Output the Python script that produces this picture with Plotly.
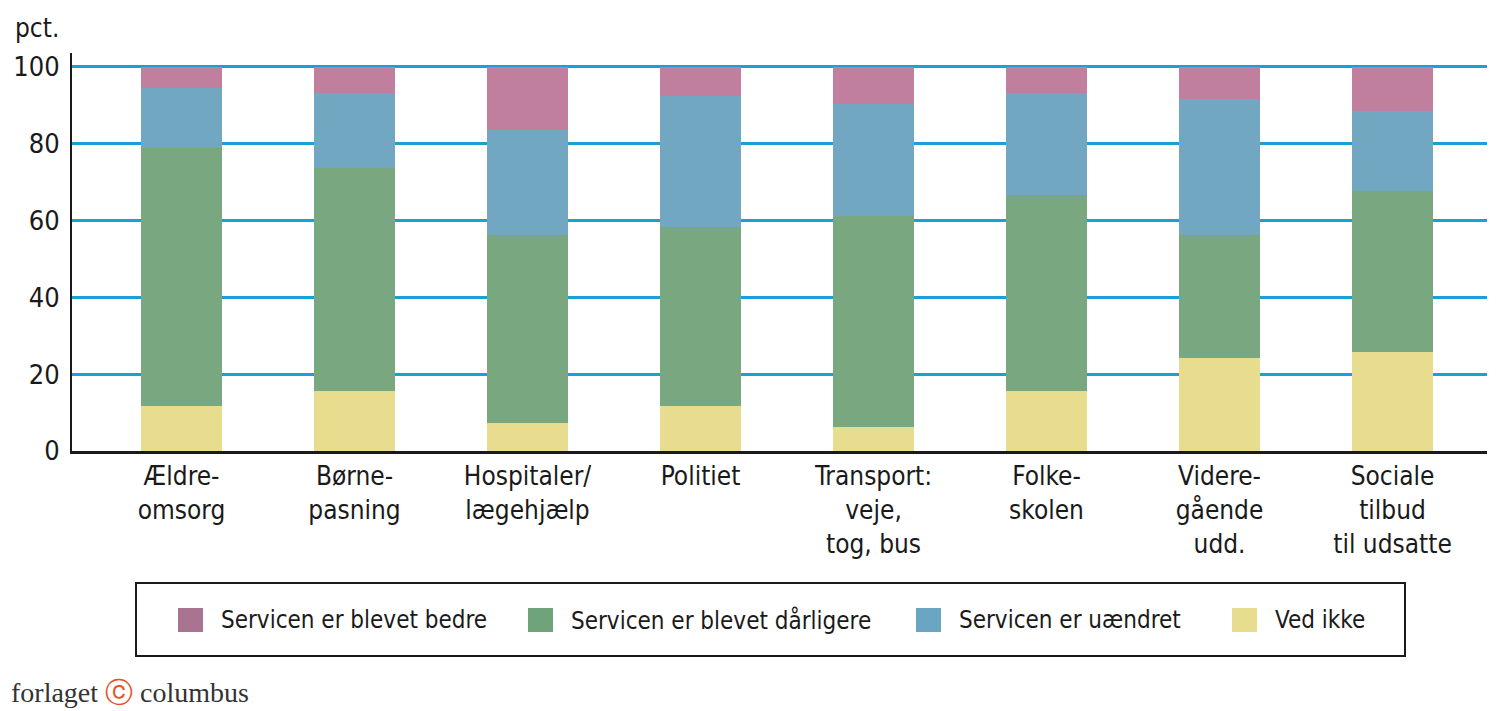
import plotly.graph_objects as go

# kategorier (to-linjers etiketter som i originalen)
kategorier = ['Ældre-<br>omsorg', 'Børne-<br>pasning', 'Hospitaler/<br>lægehjælp', 'Politiet',
              'Transport:<br>veje,<br>tog, bus', 'Folke-<br>skolen', 'Videre-<br>gående<br>udd.',
              'Sociale<br>tilbud<br>til udsatte']

# værdier i pct.
ved_ikke = [11.7, 15.5, 7.4, 11.7, 6.3, 15.5, 24.2, 25.8]
daarligere = [67.3, 58.1, 48.7, 46.5, 54.8, 51.1, 31.9, 41.8]
uaendret = [15.4, 19.6, 27.4, 34.1, 29.1, 26.6, 35.6, 20.8]
bedre = [5.6, 6.8, 16.5, 7.7, 9.8, 6.8, 8.3, 11.6]

y_ticks = [0, 20, 40, 60, 80, 100]

# serier nedefra og op
serier = [
    ('Ved ikke', ved_ikke, '#e8dd8e', '#e8dd8e'),
    ('Servicen er blevet dårligere', daarligere, '#79a880', '#6fa47b'),
    ('Servicen er uændret', uaendret, '#72a7c1', '#6aa6c2'),
    ('Servicen er blevet bedre', bedre, '#c07f9c', '#a8748f'),
]
legende_orden = ['Servicen er blevet bedre', 'Servicen er blevet dårligere', 'Servicen er uændret', 'Ved ikke']

FONT = 'DejaVu Sans Condensed, Liberation Sans Narrow, sans-serif'
OFF = 8  # sidens body-margin
W, H = 1500 - OFF, 711 - OFF
L, R, T, B = 72 - OFF, 13, 53 - OFF, 260


def px_x(p):
    return (p - OFF - L) / (W - L - R)


def px_y(p):
    return (H - B - (p - OFF)) / (H - T - B)


fig = go.Figure()
for navn, vaerdier, farve, _ in serier:
    fig.add_trace(go.Bar(x=list(range(len(kategorier))), y=vaerdier, name=navn,
                         marker=dict(color=farve, line=dict(width=0)),
                         showlegend=False, hoverinfo='y+name'))

fig.update_layout(
    barmode='stack', bargap=0.532,
    width=W, height=H,
    margin=dict(l=L, r=R, t=T, b=B),
    paper_bgcolor='white', plot_bgcolor='white',
    font=dict(family=FONT, color='#1a1a1a', size=26),
)
fig.update_xaxes(
    range=[-0.633, 7.546], tickmode='array', tickvals=list(range(len(kategorier))),
    ticktext=kategorier, showgrid=False, showline=True, linecolor='#1a1a1a', linewidth=2.5,
    ticks='', tickfont=dict(size=26, family=FONT), zeroline=False, automargin=False,
)
fig.update_yaxes(
    range=[0, 103.6], tickvals=y_ticks, showgrid=True, gridcolor='#1aa0d9', gridwidth=2.5,
    showline=True, linecolor='#1a1a1a', linewidth=2, ticks='', zeroline=False,
    tickfont=dict(size=27, family=FONT), ticklabelstandoff=5, automargin=False,
)

# "pct." over y-aksen
fig.add_annotation(text='pct.', xref='paper', yref='paper', x=px_x(13), y=px_y(28),
                   xanchor='left', yanchor='middle', showarrow=False, font=dict(size=26, family=FONT))

# legende tegnet som ramme + felter
fig.add_shape(type='rect', xref='paper', yref='paper', x0=px_x(136), x1=px_x(1405),
              y0=px_y(583), y1=px_y(656), line=dict(color='#1a1a1a', width=2), fillcolor='white')
felt_x = [178, 528, 916, 1232]
legendefarver = {n: lf for n, _, _, lf in serier}
for navn, fx in zip(legende_orden, felt_x):
    fig.add_shape(type='rect', xref='paper', yref='paper', x0=px_x(fx), x1=px_x(fx + 25),
                  y0=px_y(608), y1=px_y(632), line=dict(width=0), fillcolor=legendefarver[navn])
    fig.add_annotation(text=navn, xref='paper', yref='paper', x=px_x(fx + 41), y=px_y(620),
                       xanchor='left', yanchor='middle', showarrow=False, font=dict(size=24, family=FONT))

# forlagets mærke
fig.add_annotation(text="forlaget <span style='color:#e8502a'>ⓒ</span> columbus", xref='paper', yref='paper',
                   x=px_x(9), y=px_y(692), xanchor='left', yanchor='middle', showarrow=False,
                   font=dict(size=28, family='Liberation Serif, DejaVu Serif, serif', color='#333333'))

fig.write_html('out.html')
